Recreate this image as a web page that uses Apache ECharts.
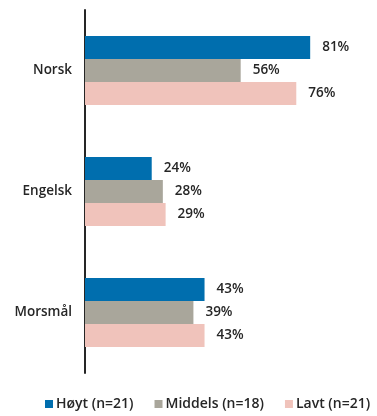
<!DOCTYPE html>
<html>
<head>
<meta charset="utf-8">
<script src="https://cdn.jsdelivr.net/npm/echarts@6/dist/echarts.min.js"></script>
<style>
  html, body { margin: 0; padding: 0; background: #fff; }
  #chart { width: 377px; height: 416px; }
</style>
</head>
<body>
<div id="chart"></div>
<script>
// Languages (categories) and share per group, in percent
const categories = ['Norsk', 'Engelsk', 'Morsmål'];
const seriesNames = ['Høyt (n=21)', 'Middels (n=18)', 'Lavt (n=21)'];
const hoyt = [81, 24, 43];
const middels = [56, 28, 39];
const lavt = [76, 29, 43];
const colors = ['#006EAE', '#A9A69B', '#F0C3BB'];

const FONT = '"Open Sans", Lato, sans-serif';
const INK = '#262626';

const chart = echarts.init(document.getElementById('chart'), null, { renderer: 'canvas' });

function barSeries(name, data, color) {
  return {
    name: name,
    type: 'bar',
    data: data,
    barWidth: 23,
    barGap: '0%',
    itemStyle: { color: color },
    label: {
      show: true,
      position: 'right',
      distance: 12,
      formatter: '{c}%',
      color: INK,
      fontFamily: FONT,
      fontSize: 13.5,
      fontWeight: 600
    }
  };
}

chart.setOption({
  animation: false,
  grid: { left: 85, right: 14, top: 10, height: 363, containLabel: false },
  xAxis: {
    type: 'value',
    min: 0,
    max: 100,
    show: false
  },
  yAxis: {
    type: 'category',
    data: categories,
    inverse: true,
    axisLine: { show: true, lineStyle: { color: INK, width: 2 } },
    axisTick: { show: false },
    axisLabel: {
      margin: 13,
      color: INK,
      fontFamily: FONT,
      fontSize: 13.5,
      fontWeight: 600
    }
  },
  legend: {
    bottom: 0,
    left: 40,
    itemWidth: 8,
    itemHeight: 8,
    itemGap: 21,
    icon: 'rect',
    textStyle: {
      color: INK,
      fontFamily: FONT,
      fontSize: 14,
      fontWeight: 600,
      padding: [0, 0, 0, -2]
    },
    data: seriesNames
  },
  series: [
    barSeries(seriesNames[0], hoyt, colors[0]),
    barSeries(seriesNames[1], middels, colors[1]),
    barSeries(seriesNames[2], lavt, colors[2])
  ]
});
</script>
</body>
</html>
